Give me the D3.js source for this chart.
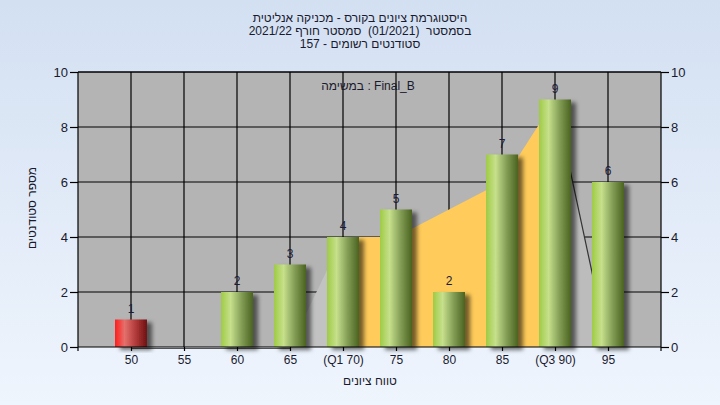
<!DOCTYPE html>
<html><head><meta charset="utf-8">
<script src="https://cdn.jsdelivr.net/npm/d3@7"></script>
<style>
html,body{margin:0;padding:0;}
svg{display:block;font-family:"Liberation Sans",Arial,sans-serif;}
text{white-space:pre;}
</style></head>
<body>
<svg id="c" width="720" height="405"></svg>
<script>
const categories = ["50","55","60","65","(Q1 70)","75","80","85","(Q3 90)","95"];
const counts = [1,0,2,3,4,5,2,7,9,6];
const curve = [0,0,0,0,4,4,5,6,9,0];
const yTicks = [0,2,4,6,8,10];
const titleLines = [
  "היסטוגרמת ציונים בקורס - מכניקה אנליטית",
  "בסמסטר  (01/2021)  סמסטר חורף 2021/22",
  "סטודנטים רשומים - 157"
];
const legendText = "במשימה : Final_B";
const xLabel = "טווח ציונים";
const yLabel = "מספר סטודנטים";

const svg = d3.select("#c");
const W = 720, H = 405;
const L = 78, R = 661, T = 72, B = 347;

const defs = svg.append("defs");
const bg = defs.append("linearGradient").attr("id","bg").attr("x1",0).attr("y1",0).attr("x2",0).attr("y2",1);
bg.append("stop").attr("offset","0%").attr("stop-color","#d3e0f2");
bg.append("stop").attr("offset","100%").attr("stop-color","#eff5fd");

function cyl(id, c0, c1, c2, c3){
  const g = defs.append("linearGradient").attr("id",id).attr("x1",0).attr("y1",0).attr("x2",1).attr("y2",0);
  g.append("stop").attr("offset","0%").attr("stop-color",c0);
  g.append("stop").attr("offset","30%").attr("stop-color",c1);
  g.append("stop").attr("offset","65%").attr("stop-color",c2);
  g.append("stop").attr("offset","100%").attr("stop-color",c3);
}
cyl("gGreen","#9fcb45","#c6e08c","#829c55","#4a631f");
cyl("gRed","#ff1c1c","#e4706c","#b03a3a","#6e1010");

const f = defs.append("filter").attr("id","sh").attr("x","-30%").attr("y","-10%").attr("width","170%").attr("height","130%");
f.append("feDropShadow").attr("dx",5).attr("dy",3).attr("stdDeviation",2).attr("flood-color","#000").attr("flood-opacity",0.55);

svg.append("rect").attr("width",W).attr("height",H).attr("fill","url(#bg)");

const x = d3.scalePoint().domain(categories).range([L,R]).padding(1);
const y = d3.scaleLinear().domain([0,10]).range([B,T]);

svg.append("rect").attr("x",L).attr("y",T).attr("width",R-L).attr("height",B-T).attr("fill","#b4b4b4");

// gridlines
const grid = svg.append("g").attr("stroke","#000").attr("stroke-width",1.2);
grid.selectAll("line.h").data(yTicks.filter(d=>d>0)).join("line")
  .attr("x1",L).attr("x2",R).attr("y1",d=>y(d)).attr("y2",d=>y(d));
grid.selectAll("line.v").data(categories).join("line")
  .attr("x1",d=>x(d)).attr("x2",d=>x(d)).attr("y1",T).attr("y2",B);

// area series
const pts = categories.map((c,i)=>({c, v:curve[i], i}));
const area = d3.area().x(d=>x(d.c)).y0(y(0)).y1(d=>y(d.v));
svg.append("path").datum(pts.slice(3,5)).attr("d",area).attr("fill","#c2c2c2");
svg.append("path").datum(pts.slice(8,10)).attr("d",area).attr("fill","#bcbcbc");
svg.append("path").datum(pts.slice(4,9)).attr("d",area).attr("fill","#ffcb5a");
const line = d3.line().x(d=>x(d.c)).y(d=>y(d.v));
svg.append("path").datum(pts.slice(8,10)).attr("d",line).attr("fill","none").attr("stroke","#333").attr("stroke-width",1.2);
svg.append("path").datum(pts.slice(0,4)).attr("d",line).attr("transform","translate(0,1.5)").attr("fill","none").attr("stroke","#555").attr("stroke-width",1);

// bars
const bw = 32;
const bars = categories.map((c,i)=>({c, v:counts[i], i}));
svg.append("g").selectAll("rect").data(bars.filter(d=>d.v>0)).join("rect")
  .attr("x",d=>x(d.c)-bw/2).attr("width",bw)
  .attr("y",d=>y(d.v)).attr("height",d=>y(0)-y(d.v))
  .attr("fill",d=>d.i===0?"url(#gRed)":"url(#gGreen)")
  .attr("filter","url(#sh)");

// value labels
svg.append("g").selectAll("text").data(bars.filter(d=>d.v>0)).join("text")
  .attr("x",d=>x(d.c)).attr("y",d=>y(d.v)-7)
  .attr("text-anchor","middle").attr("font-size",12).attr("fill","#1b1b3a")
  .text(d=>d.v);

// axes frame
const ax = svg.append("g").attr("stroke","#000").attr("stroke-width",1.2);
ax.append("line").attr("x1",L).attr("x2",L).attr("y1",T).attr("y2",B+4);
ax.append("line").attr("x1",R).attr("x2",R).attr("y1",T).attr("y2",B+4);
ax.append("line").attr("x1",L).attr("x2",R).attr("y1",T).attr("y2",T);
ax.append("line").attr("x1",L).attr("x2",R).attr("y1",B).attr("y2",B);

const yl = d3.axisLeft(y).tickValues(yTicks).tickSize(8).tickPadding(2).tickFormat(d3.format("d"));
const yr = d3.axisRight(y).tickValues(yTicks).tickSize(8).tickPadding(2).tickFormat(d3.format("d"));
const xb = d3.axisBottom(x).tickSize(4).tickPadding(4);
function styleAxis(g){
  g.select(".domain").remove();
  g.selectAll(".tick line").attr("stroke","#000").attr("stroke-width",1.2);
  g.selectAll("text").attr("font-size",13).attr("fill","#1a1a2e").attr("font-family","Liberation Sans, Arial, sans-serif");
}
svg.append("g").attr("transform",`translate(${L},0)`).call(yl).call(styleAxis);
svg.append("g").attr("transform",`translate(${R},0)`).call(yr).call(styleAxis);
svg.append("g").attr("transform",`translate(0,${B})`).call(xb).call(styleAxis)
  .selectAll("text").attr("font-size",12);

// titles (LTR base paragraph, natural logical Hebrew strings)
const tg = svg.append("g").attr("font-size",12).attr("fill","#1a1a2e").attr("text-anchor","middle");
titleLines.forEach((s,i)=>{
  tg.append("text").attr("x",360).attr("y",22+i*13).attr("direction","ltr").text(s);
});
svg.append("text").attr("x",368).attr("y",90).attr("text-anchor","middle").attr("font-size",12)
  .attr("fill","#1a1a2e").attr("direction","ltr").text(legendText);
svg.append("text").attr("x",370).attr("y",385).attr("text-anchor","middle").attr("font-size",12)
  .attr("fill","#1a1a2e").attr("direction","ltr").text(xLabel);
svg.append("text").attr("transform","translate(36,208) rotate(-90)").attr("text-anchor","middle")
  .attr("font-size",12).attr("fill","#1a1a2e").attr("direction","ltr").text(yLabel);
</script>
</body></html>
